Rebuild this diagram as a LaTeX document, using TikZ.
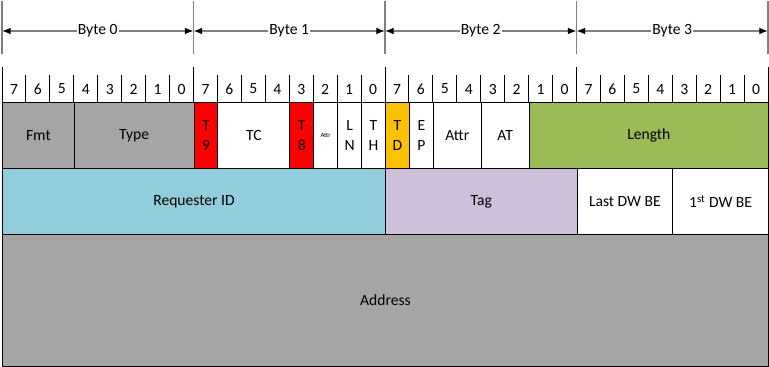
\documentclass[tikz,border=0pt]{standalone}
\usepackage{fontspec}
\setmainfont{Carlito}
\usetikzlibrary{arrows.meta,positioning}

\definecolor{fmtgray}{HTML}{A5A5A5}
\definecolor{tred}{HTML}{FF0000}
\definecolor{tdorange}{HTML}{FFC000}
\definecolor{lengreen}{HTML}{9BBB59}
\definecolor{reqblue}{HTML}{92CDDC}
\definecolor{taglav}{HTML}{CCC0DA}
\definecolor{sepgray}{HTML}{808080}

% one bit, as a length
\def\bitw{17.953pt}

\begin{document}
\begin{tikzpicture}[
    x=0.75pt, y=-0.75pt,
    field/.style={
        rectangle,
        draw=black,
        line width=0.75pt,
        anchor=north west,
        inner sep=0pt,
        minimum height=49.5pt,
        align=center,
        font=\fontsize{11.7}{15}\selectfont
    },
    bitnum/.style={
        inner sep=0pt,
        font=\fontsize{11.7}{13}\selectfont
    },
    span/.style={
        {Latex[length=6.5pt,width=5pt,black]}-{Latex[length=6.5pt,width=5pt,black]},
        draw=sepgray,
        line width=0.9pt
    },
    bytelbl/.style={
        fill=white,
        inner sep=1pt,
        font=\fontsize{11.7}{13}\selectfont
    }
]

\useasboundingbox (0,0) rectangle (769,367);

% Byte spans on top
\foreach \b in {0,...,4} {
    \draw[sepgray, line width=1pt] ({2+\b*191.5},1) -- ({2+\b*191.5},54);
    \coordinate (bnd\b) at ({2+\b*191.5},31);
}
\draw[span] (bnd0) -- node[bytelbl] (byte0) {Byte 0} (bnd1);
\draw[span] (bnd1) -- node[bytelbl] (byte1) {Byte 1} (bnd2);
\draw[span] (bnd2) -- node[bytelbl] (byte2) {Byte 2} (bnd3);
\draw[span] (bnd3) -- node[bytelbl] (byte3) {Byte 3} (bnd4);

% Bit numbers and ticks
\foreach \i in {0,...,31} {
    \pgfmathtruncatemacro\bn{7-mod(\i,8)}
    \node[bitnum] (n\i) at ({2+(\i+0.5)*23.9375},89) {\bn};
}
\foreach \i in {1,...,31}
    \draw[line width=0.75pt] ({2+\i*23.9375},75) -- ({2+\i*23.9375},102);
\foreach \b in {0,...,4}
    \draw[line width=0.75pt] ({2+\b*191.5},67) -- ({2+\b*191.5},102);

% Row 1
\node[field, fill=fmtgray, minimum width=3*\bitw] (fmt) at (2,102) {Fmt};
\node[field, fill=fmtgray, minimum width=5*\bitw] (type) at ({2+3*23.9375},102) {Type};
\node[field, fill=tred, minimum width=\bitw] (t9) at ({2+8*23.9375},102) {T\\9};
\node[field, fill=white, minimum width=3*\bitw] (tc) at ({2+9*23.9375},102) {TC};
\node[field, fill=tred, minimum width=\bitw] (t8) at ({2+12*23.9375},102) {T\\8};
\node[field, fill=white, minimum width=\bitw, font=\fontsize{5}{6}\selectfont] (attra) at ({2+13*23.9375},102) {Attr};
\node[field, fill=white, minimum width=\bitw] (ln) at ({2+14*23.9375},102) {L\\N};
\node[field, fill=white, minimum width=\bitw] (th) at ({2+15*23.9375},102) {T\\H};
\node[field, fill=tdorange, minimum width=\bitw] (td) at ({2+16*23.9375},102) {T\\D};
\node[field, fill=white, minimum width=\bitw] (ep) at ({2+17*23.9375},102) {E\\P};
\node[field, fill=white, minimum width=2*\bitw] (attrb) at ({2+18*23.9375},102) {Attr};
\node[field, fill=white, minimum width=2*\bitw] (at) at ({2+20*23.9375},102) {AT};
\node[field, fill=lengreen, minimum width=10*\bitw] (length) at ({2+22*23.9375},102) {Length};

% Row 2
\node[field, fill=reqblue, minimum width=16*\bitw] (reqid) at (2,168) {Requester ID};
\node[field, fill=taglav, minimum width=8*\bitw] (tag) at ({2+16*23.9375},168) {Tag};
\node[field, fill=white, minimum width=4*\bitw] (lastbe) at ({2+24*23.9375},168) {Last DW BE};
\node[field, fill=white, minimum width=4*\bitw] (firstbe) at ({2+28*23.9375},168) {1\textsuperscript{st} DW BE};

% Row 3
\node[field, fill=fmtgray, minimum width=32*\bitw, minimum height=99pt] (addr) at (2,234) {Address};

\end{tikzpicture}
\end{document}
